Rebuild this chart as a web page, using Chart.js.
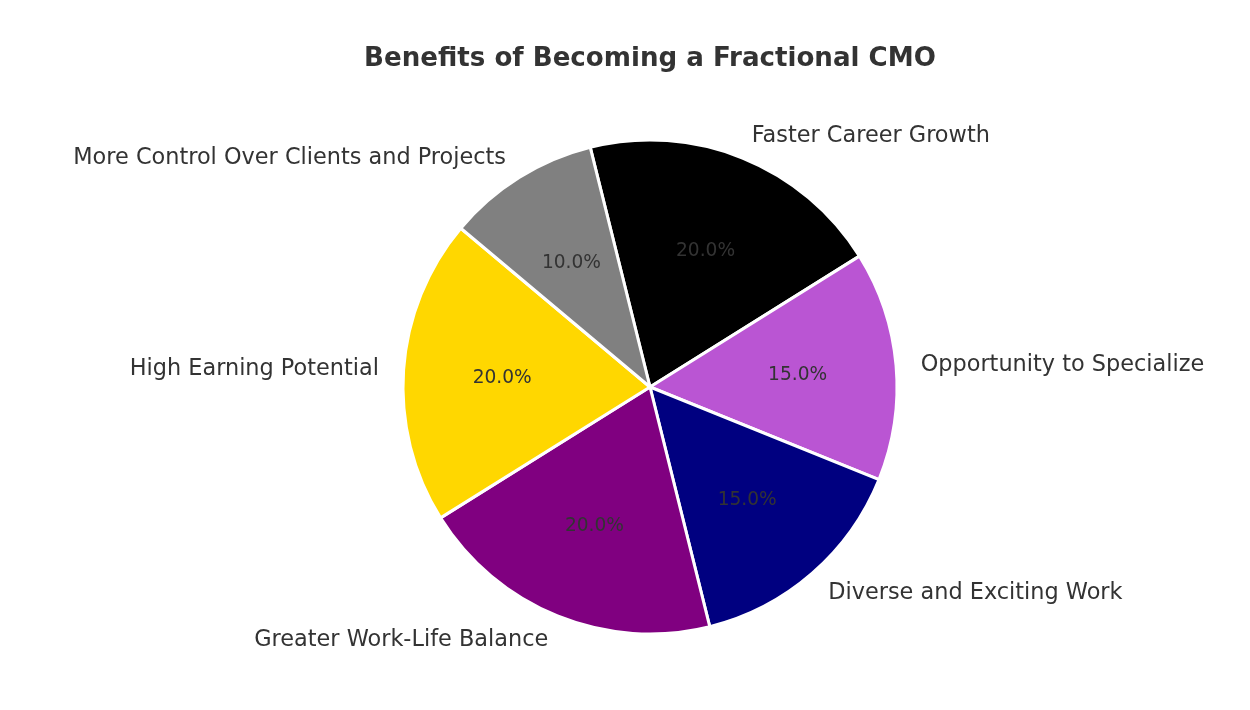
<!DOCTYPE html>
<html>
<head>
<meta charset="utf-8">
<script src="https://cdn.jsdelivr.net/npm/chart.js@4.4.0/dist/chart.umd.min.js"></script>
<style>
html,body{margin:0;padding:0;background:#fff;}
#wrap{width:1250px;height:710px;position:relative;}
</style>
</head>
<body>
<div id="wrap"><canvas id="c" width="1250" height="710"></canvas></div>
<script>
const titleText = "Benefits of Becoming a Fractional CMO";
const categories = ["Faster Career Growth","Opportunity to Specialize","Diverse and Exciting Work","Greater Work-Life Balance","High Earning Potential","More Control Over Clients and Projects"];
const values = [20, 15, 15, 20, 20, 10];
const colors = ["#000000","#BA55D3","#000080","#800080","#FFD700","#808080"];

const FONT = "'DejaVu Sans', sans-serif";

const labelPlugin = {
  id: 'pieLabels',
  afterDraw(chart) {
    const ctx = chart.ctx;
    const meta = chart.getDatasetMeta(0);
    const total = values.reduce((a,b)=>a+b,0);
    ctx.save();
    // title
    ctx.fillStyle = '#333333';
    ctx.font = "bold 26.1px " + FONT;
    ctx.textAlign = 'center';
    ctx.textBaseline = 'middle';
    ctx.fillText(titleText, 650, 59);
    meta.data.forEach((arc, i) => {
      const p = arc.getProps(['x','y','startAngle','endAngle','outerRadius'], true);
      const mid = (p.startAngle + p.endAngle) / 2;
      const c = Math.cos(mid), s = Math.sin(mid);
      // outer label
      ctx.font = "22.4px " + FONT;
      ctx.fillStyle = '#333333';
      ctx.textBaseline = 'middle';
      ctx.textAlign = c >= 0 ? 'left' : 'right';
      ctx.fillText(categories[i], p.x + c * p.outerRadius * 1.1, p.y + s * p.outerRadius * 1.1 + 1.5);
      // percentage
      ctx.font = "18.6px " + FONT;
      ctx.textAlign = 'center';
      ctx.fillStyle = '#333333';
      const pct = (values[i] / total * 100).toFixed(1) + '%';
      ctx.fillText(pct, p.x + c * p.outerRadius * 0.6, p.y + s * p.outerRadius * 0.6 + 1.5);
    });
    ctx.restore();
  }
};

new Chart(document.getElementById('c'), {
  type: 'pie',
  data: {
    labels: categories,
    datasets: [{
      data: values,
      backgroundColor: colors,
      borderColor: '#ffffff',
      borderWidth: 3,
      radius: 247,
      hoverOffset: 0
    }]
  },
  options: {
    responsive: false,
    animation: false,
    events: [],
    rotation: -14,
    layout: { padding: { left: 50, right: 0, top: 64, bottom: 0 } },
    plugins: { legend: { display: false }, title: { display: false }, tooltip: { enabled: false } }
  },
  plugins: [labelPlugin]
});
</script>
</body>
</html>
